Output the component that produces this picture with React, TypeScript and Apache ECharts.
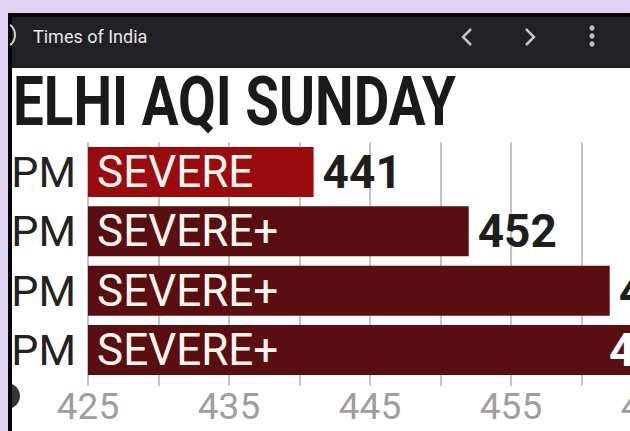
import React, { useEffect, useRef } from "react";
import * as echarts from "echarts";

const categories = ["PM", "PM", "PM", "PM"];
const aqiValues = [441, 452, 462, 468];
const statusLabels = ["SEVERE", "SEVERE+", "SEVERE+", "SEVERE+"];
const barColors = ["#9a0b0e", "#5b0e0f", "#5b0e0f", "#5b0e0f"];
const axisMin = 425;
const axisMax = 470;
const axisStep = 5;
const labelStep = 10;
const titleText = "ELHI AQI SUNDAY";
const headerText = "Times of India";

const FONT = 'Roboto, "Liberation Sans", sans-serif';
const CHART_W = 730;

export default function App() {
  const ref = useRef<HTMLDivElement>(null);
  useEffect(() => {
    if (!ref.current) return;
    const chart = echarts.init(ref.current, null, { renderer: "svg" });
    const option = {
      animation: false,
      backgroundColor: "#ffffff",
      grid: { left: 88, right: 7.5, top: 142.3, bottom: 51.3, containLabel: false },
      xAxis: {
        type: "value",
        min: axisMin,
        max: axisMax,
        interval: axisStep,
        axisLine: { show: false },
        axisTick: { show: true, length: 6, lineStyle: { color: "#b0b0b0", width: 1.5 } },
        splitLine: { show: true, lineStyle: { color: "#b0b0b0", width: 1.5 } },
        axisLabel: {
          color: "#9e9e9e",
          fontFamily: FONT,
          fontSize: 37,
          margin: 8,
          formatter: (v: number) => ((v - axisMin) % labelStep === 0 ? String(v) : ""),
        },
      },
      yAxis: {
        type: "category",
        inverse: true,
        data: categories,
        axisLine: { show: false },
        axisTick: { show: false },
        axisLabel: { interval: 0, color: "#222222", fontFamily: FONT, fontSize: 43, margin: 12 },
      },
      series: [
        {
          type: "bar",
          barWidth: 50,
          data: aqiValues.map((v, i) => ({ value: v, itemStyle: { color: barColors[i] } })),
          label: {
            show: true,
            position: "insideLeft",
            distance: 9,
            color: "#fff6f2",
            fontFamily: FONT,
            fontSize: 44,
            formatter: (p: any) => statusLabels[p.dataIndex],
          },
          z: 2,
        },
        {
          type: "bar",
          barWidth: 50,
          barGap: "-100%",
          silent: true,
          itemStyle: { color: "rgba(0,0,0,0)" },
          data: aqiValues.map((v, i) =>
            i === aqiValues.length - 1
              ? { value: v, label: { position: "insideRight", distance: 6, color: "#ffffff" } }
              : { value: v }
          ),
          label: {
            show: true,
            position: "right",
            distance: 9,
            color: "#1e1e1e",
            fontFamily: FONT,
            fontWeight: "bold",
            fontSize: 46,
          },
          z: 3,
        },
      ],
      graphic: [
        {
          type: "text",
          x: 13,
          y: 102,
          scaleX: 0.805,
          style: {
            text: titleText,
            fill: "#1a1a1a",
            font: `bold 68px ${FONT}`,
            verticalAlign: "middle",
            textAlign: "left",
          },
          z: 50,
        },
        { type: "circle", shape: { cx: 7, cy: 396, r: 13 }, style: { fill: "#353535" }, z: 90 },
        { type: "rect", shape: { x: 0, y: 0, width: CHART_W, height: 13 }, style: { fill: "#e0d2f1" }, z: 100 },
        { type: "rect", shape: { x: 0, y: 0, width: 8, height: 431 }, style: { fill: "#e0d2f1" }, z: 100 },
        { type: "rect", shape: { x: 8, y: 13, width: CHART_W, height: 4 }, style: { fill: "#050505" }, z: 100 },
        { type: "rect", shape: { x: 8, y: 13, width: 4, height: 418 }, style: { fill: "#050505" }, z: 100 },
        { type: "rect", shape: { x: 12, y: 17, width: CHART_W, height: 51 }, style: { fill: "#202124" }, z: 100 },
        {
          type: "arc",
          shape: { cx: 2, cy: 35, r: 13, startAngle: -0.9, endAngle: 0.9, clockwise: true },
          style: { stroke: "#cfcfcf", lineWidth: 2, fill: "none" },
          z: 101,
        },
        {
          type: "text",
          x: 33,
          y: 36,
          style: {
            text: headerText,
            fill: "#e8e8e8",
            font: `18px ${FONT}`,
            verticalAlign: "middle",
            textAlign: "left",
          },
          z: 101,
        },
        {
          type: "polyline",
          shape: { points: [[471, 29], [463, 37], [471, 45]] },
          style: { stroke: "#c4c4c4", lineWidth: 2.5, fill: "none" },
          z: 101,
        },
        {
          type: "polyline",
          shape: { points: [[526, 29], [534, 37], [526, 45]] },
          style: { stroke: "#c4c4c4", lineWidth: 2.5, fill: "none" },
          z: 101,
        },
        { type: "circle", shape: { cx: 592, cy: 28, r: 2.6 }, style: { fill: "#c4c4c4" }, z: 101 },
        { type: "circle", shape: { cx: 592, cy: 36, r: 2.6 }, style: { fill: "#c4c4c4" }, z: 101 },
        { type: "circle", shape: { cx: 592, cy: 44, r: 2.6 }, style: { fill: "#c4c4c4" }, z: 101 },
      ],
    };
    chart.setOption(option as any);
    return () => chart.dispose();
  }, []);
  return (
    <div style={{ position: "fixed", left: 0, top: 0, width: 630, height: 431, overflow: "hidden" }}>
      <div ref={ref} style={{ position: "absolute", left: 0, top: 0, width: CHART_W, height: 431 }} />
    </div>
  );
}
